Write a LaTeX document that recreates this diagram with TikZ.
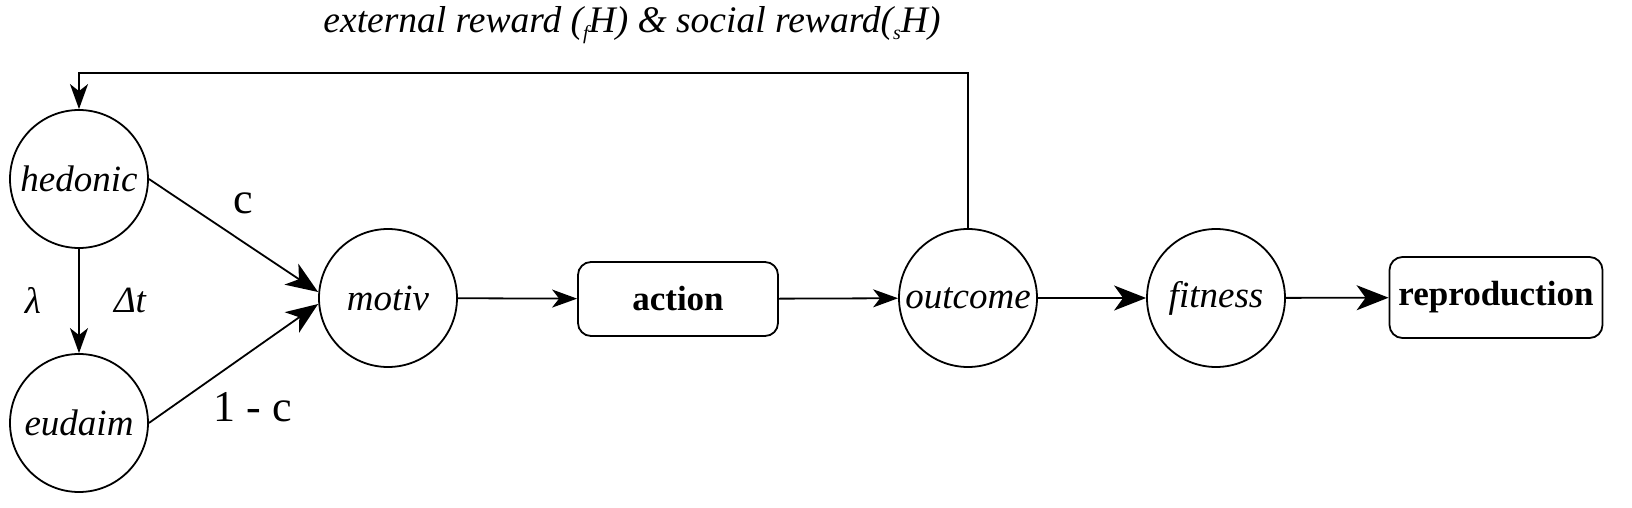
\documentclass[tikz,border=0pt]{standalone}
\usepackage{fontspec}
\setmainfont{Liberation Serif}
\usetikzlibrary{arrows.meta}
\newcommand{\lowsub}[1]{\raisebox{-7pt}{\fontsize{20}{22}\selectfont #1}}
\tikzset{
  state/.style={circle, draw, line width=1.8pt, minimum size=138pt, inner sep=0pt, font=\fontsize{37}{40}\selectfont\itshape},
  box/.style={rectangle, rounded corners=13pt, draw, line width=1.8pt, inner sep=0pt, font=\fontsize{35}{40}\selectfont\bfseries},
  conn/.style={line width=1.8pt},
  smalltip/.style={conn, -{Stealth[length=25pt, width=18pt, inset=7pt]}},
  bigtip/.style={conn, -{Stealth[length=32pt, width=25pt, inset=9pt]}},
  lbl/.style={font=\fontsize{44}{46}\selectfont},
  ilbl/.style={font=\fontsize{37}{40}\selectfont\itshape},
}
\begin{document}
\begin{tikzpicture}[x=1pt, y=1pt]
\useasboundingbox (0,0) rectangle (1632,-508);
\node[state] (hedonic) at (79,-179) {hedonic};
\node[state] (eudaim) at (79,-423) {eudaim};
\node[state] (motiv) at (388,-298) {motiv};
\node[box, minimum width=200pt, minimum height=74pt] (action) at (678,-299) {action};
\node[state] (outcome) at (968,-298) {outcome};
\node[state] (fitness) at (1216,-298) {fitness};
\node[box, minimum width=213pt, minimum height=81pt] (repro) at (1496,-297.5) {reproduction};
\coordinate (fb) at (968,-73);
\node[anchor=base, font=\fontsize{37.5}{40}\selectfont\itshape] (title) at (632,-33) {external reward (\lowsub{f}H) \& social reward(\lowsub{s}H)};
\node[lbl] (lc) at (243,-203) {c};
\node[lbl] (l1c) at (253,-407) {1 - c};
\node[ilbl] (llam) at (33,-300) {\symbol{"03BB}};
\node[ilbl] (ldt) at (130,-300) {\symbol{"0394}t};
\draw[smalltip] (hedonic) -- (eudaim);
\draw[bigtip] (hedonic.east) -- ([yshift=6pt]motiv.west);
\draw[bigtip] (eudaim.east) -- ([yshift=-6pt]motiv.west);
\draw[smalltip] (motiv) -- (action);
\draw[smalltip] (action) -- (outcome);
\draw[bigtip] (outcome) -- (fitness);
\draw[bigtip] (fitness) -- (repro);
\draw[smalltip] (outcome.north) -- (fb) -| (hedonic.north);
\end{tikzpicture}
\end{document}
